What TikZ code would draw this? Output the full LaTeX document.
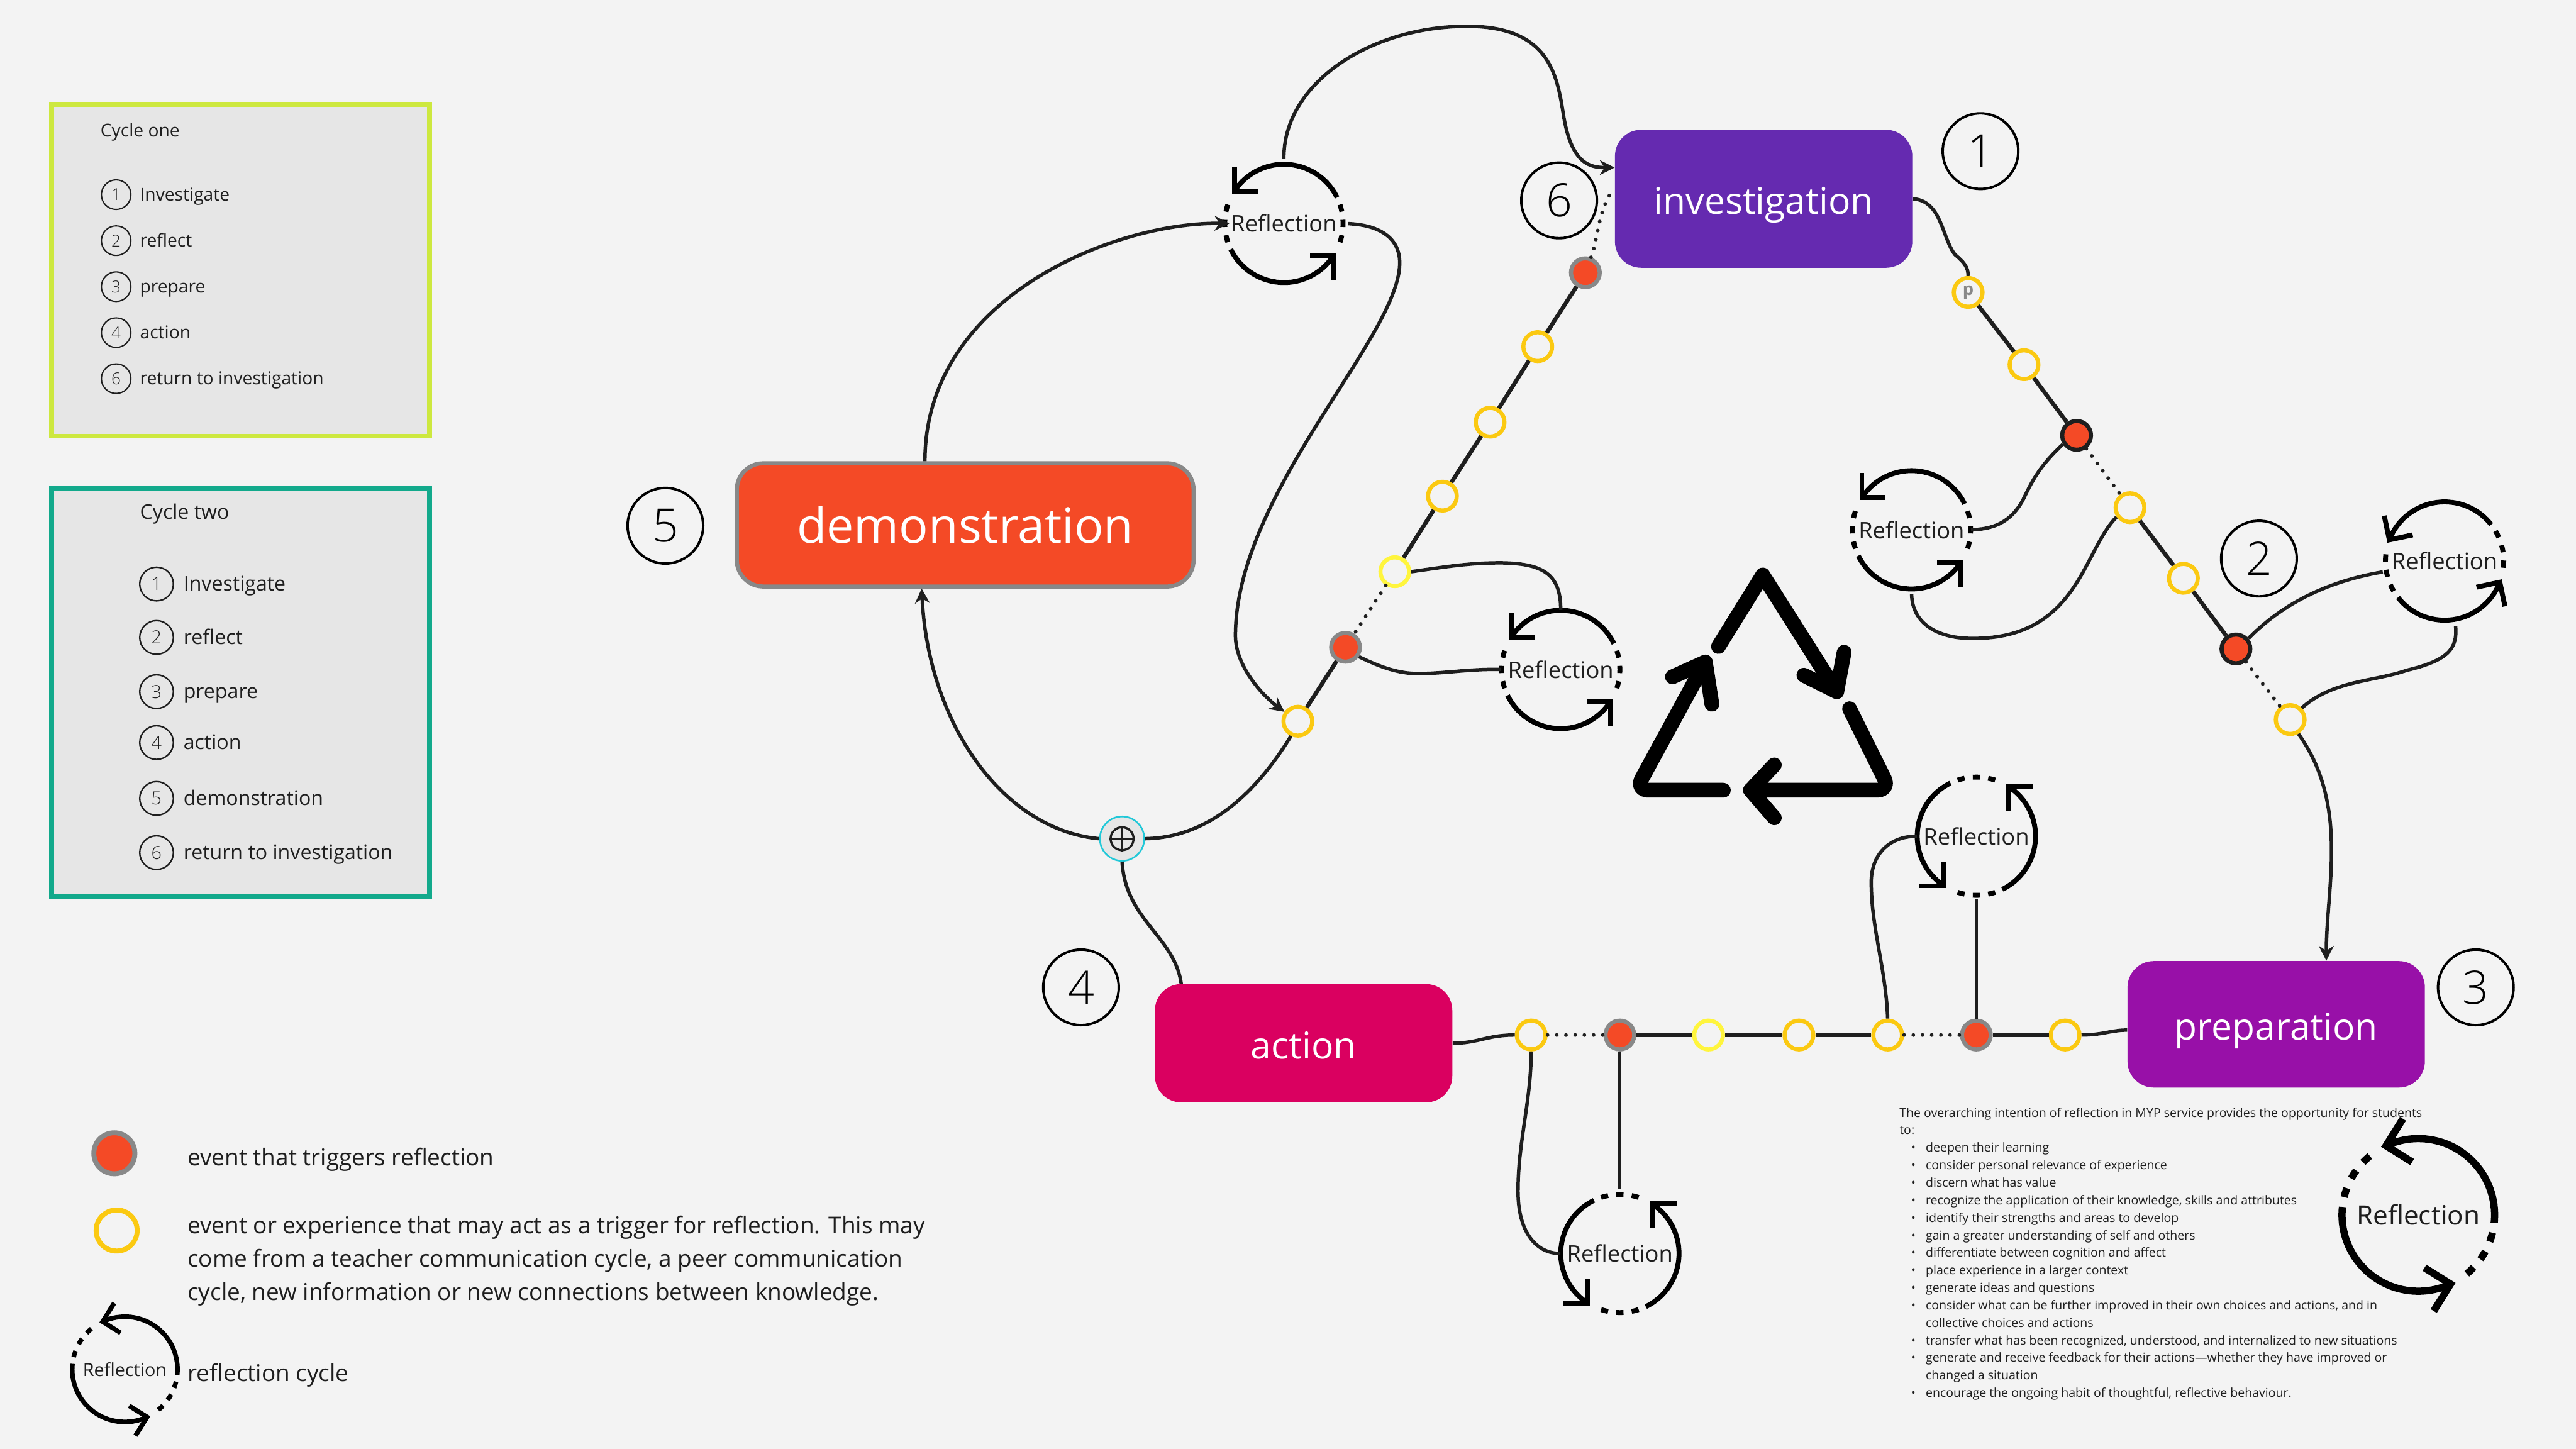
\documentclass[tikz,border=0pt]{standalone}
\usepackage{fontspec}
\setmainfont{Open Sans}
\newfontfamily\numfont{Open Sans Light}
\usetikzlibrary{arrows.meta}
\definecolor{bgc}{HTML}{F3F3F3}
\definecolor{panel}{HTML}{E6E6E6}
\definecolor{lime}{HTML}{CDE83F}
\definecolor{teal2}{HTML}{12A98B}
\definecolor{ink}{HTML}{1E1E1E}
\definecolor{amber}{HTML}{FBC911}
\definecolor{lemon}{HTML}{FFF53D}
\definecolor{redd}{HTML}{F44A26}
\definecolor{greyy}{HTML}{888888}
\definecolor{violet2}{HTML}{652AB0}
\definecolor{rose}{HTML}{DA0060}
\definecolor{purp}{HTML}{9810A8}
\definecolor{cyanc}{HTML}{22C8D8}
\newcommand{\fsz}[1]{\fontsize{#1}{#1}\selectfont}
\newcommand{\low}[1]{\raisebox{-9.5pt}[0pt][0pt]{#1}}
\tikzset{
  panelbox/.style={draw,fill=panel,line width=3pt,minimum width=230pt,anchor=north west,inner sep=0},
  lab/.style={anchor=mid west,inner sep=0,text=ink},
  stagebox/.style={rounded corners=16pt,minimum width=181pt,text=white,inner sep=0},
  numc/.style={circle,draw=black,line width=1.5pt,minimum size=46pt,inner sep=0,font=\numfont\fsz{28},text=black},
  smallc/.style={circle,draw=ink,line width=.8pt,minimum size=18pt,inner sep=0,font=\numfont\fsz{10},text=ink},
  smallcc/.style={circle,draw=ink,line width=.9pt,minimum size=20.5pt,inner sep=0,font=\numfont\fsz{11},text=ink},
  ring/.style={circle,draw=amber,fill=bgc,line width=2.5pt,minimum size=17.5pt,inner sep=0},
  ringl/.style={ring,draw=lemon},
  trig/.style={circle,draw=greyy,fill=redd,line width=2.5pt,minimum size=17.5pt,inner sep=0},
  trigd/.style={trig,draw=ink},
  conn/.style={draw=ink,line width=2.1pt},
  connb/.style={draw=ink,line width=2.5pt},
  arr/.style={-{Stealth[length=9pt,width=9pt]}},
  dots/.style={draw=ink,line width=2.3pt,line cap=round,dash pattern=on 0pt off 5.6pt},
  rec/.style={draw=black,line width=9pt,line cap=round,line join=round},
  reft/.style={circle,inner sep=0,text=ink},
}
% name, x, y, rotation, scale, font size, line width
\newcommand{\refcyc}[7]{%
  \node[reft,minimum size=#5*72pt,font=\fsz{#6}] (#1) at (#2,#3) {Reflection};
  \begin{scope}[shift={(#2,#3)},rotate=#4,scale=#5,line width=#7pt,draw=black]
    \draw (-26:36) arc[start angle=-26,end angle=-147,radius=36];
    \draw (154:36) arc[start angle=154,end angle=33,radius=36];
    \draw[miter limit=10] (-30.2,-34.6) -- (-30.2,-19.6) -- (-15.7,-19.6);
    \draw[miter limit=10] (30.2,34.6) -- (30.2,19.6) -- (15.7,19.6);
    \foreach \a in {-15,0,15,165,180,195}{
      \draw (\a-3.5:36) arc[start angle=\a-3.5,end angle=\a+3.5,radius=36];
    }
  \end{scope}
}
\newcommand{\bl}[1]{\makebox[16pt][l]{\hspace{7pt}•}#1}
\begin{document}
\begin{tikzpicture}[x=1pt,y=1pt,yscale=-1]
\useasboundingbox (0,0) rectangle (1568,882);
\fill[bgc] (0,0) rectangle (1568,882);

% panels
\node[panelbox,draw=lime,minimum height=202pt] (p1) at (30,62) {};
\node[panelbox,draw=teal2,minimum height=248.5pt] (p2) at (30,296) {};
\node[lab,font=\fsz{10.8}] (c1t) at (61,80.5) {Cycle one};
\foreach \n/\y/\t/\k in {1/118.5/Investigate/a,2/146.5/reflect/b,3/174.5/prepare/c,4/202.5/action/d,6/230.5/return to investigation/e}{
  \node[smallc] (c1\k) at (70.7,\y) {\n};
  \node[lab,font=\fsz{10.8}] (c1l\k) at (85,\y+1) {\t};
}
\node[lab,font=\fsz{12.3}] (c2t) at (85,313.5) {Cycle two};
\foreach \n/\y/\t/\k in {1/355.5/Investigate/a,2/388/reflect/b,3/421/prepare/c,4/452/action/d,5/486/demonstration/e,6/519/return to investigation/f}{
  \node[smallcc] (c2\k) at (95.3,\y) {\n};
  \node[lab,font=\fsz{12.3}] (c2l\k) at (111.5,\y+1.5) {\t};
}

% stage boxes
\node[stagebox,fill=redd,draw=greyy,line width=2.5pt,minimum width=278pt,minimum height=75pt,font=\fsz{29.6}] (demo) at (587.5,319.5) {demonstration};
\node[stagebox,fill=violet2,minimum height=84pt,font=\fsz{22.5}] (inv) at (1073.5,121) {\low{investigation}};
\node[stagebox,fill=rose,minimum height=72pt,font=\fsz{22.5}] (act) at (793.5,635) {\low{action}};
\node[stagebox,fill=purp,minimum height=77pt,font=\fsz{22.5}] (prep) at (1385.5,623.5) {\low{preparation}};

% number circles
\node[numc] (n1) at (1205.5,92) {1};
\node[numc] (n2) at (1375,340) {2};
\node[numc] (n3) at (1507,601) {3};
\node[numc] (n4) at (658,601) {4};
\node[numc] (n5) at (405,320) {5};
\node[numc] (n6) at (949,122) {6};

% chain nodes
\node[ring,font=\bfseries\fsz{10.5},text=greyy] (pn) at (1198,178) {p};
\node[ring] (a2) at (1232,222) {};
\node[trigd] (a3) at (1264,265) {};
\node[ring] (a4) at (1296.5,309) {};
\node[ring] (a5) at (1329,352) {};
\node[trigd] (a6) at (1361,395) {};
\node[ring] (a7) at (1394,438) {};
\node[ring] (b1) at (932,630) {};
\node[trig] (b2) at (986,630) {};
\node[ringl] (b3) at (1040,630) {};
\node[ring] (b4) at (1095,630) {};
\node[ring] (b5) at (1149,630) {};
\node[trig] (b6) at (1203,630) {};
\node[ring] (b7) at (1257,630) {};
\node[trig] (l1) at (965,166) {};
\node[ring] (l2) at (936,211) {};
\node[ring] (l3) at (907,257) {};
\node[ring] (l4) at (878,302) {};
\node[ringl] (l5) at (849,348) {};
\node[trig] (l6) at (819,394) {};
\node[ring] (l7) at (790,439) {};
\node[circle,draw=cyanc,fill=panel,line width=1pt,minimum size=27pt,inner sep=0] (cy) at (683,510.5) {};
\node[circle,draw=ink,line width=1.3pt,minimum size=14pt,inner sep=0] (cyi) at (683,510.5) {};
\draw[ink,line width=1.1pt] (cyi.north) -- (cyi.south) (cyi.west) -- (cyi.east);

% reflection cycles
\refcyc{rA}{781.5}{136}{0}{1}{13.9}{3}
\refcyc{rB}{1163.5}{322.5}{0}{1}{13.9}{3}
\refcyc{rC}{1488}{341.5}{-12}{1}{13.9}{3}
\refcyc{rD}{950}{407.5}{0}{1}{13.9}{3}
\refcyc{rE}{1203}{509}{90}{1}{13.9}{3}
\refcyc{rF}{986}{763}{90}{1}{13.9}{3}
\refcyc{rG}{1472}{739.5}{32}{1.29}{16.2}{4.4}
\refcyc{rH}{76}{833.5}{32}{.89}{11}{2.8}

% chain lines
\draw[connb] (pn) -- (a2); \draw[connb] (a2) -- (a3);
\draw[dots] (a3) -- (a4);
\draw[connb] (a4) -- (a5); \draw[connb] (a5) -- (a6);
\draw[dots] (a6) -- (a7);
\draw[dots] (b1) -- (b2);
\draw[connb] (b2) -- (b3); \draw[connb] (b3) -- (b4); \draw[connb] (b4) -- (b5);
\draw[dots] (b5) -- (b6);
\draw[connb] (b6) -- (b7);
\draw[connb] (l1) -- (l2); \draw[connb] (l2) -- (l3); \draw[connb] (l3) -- (l4); \draw[connb] (l4) -- (l5);
\draw[dots] (l5) -- (l6);
\draw[connb] (l6) -- (l7);
\draw[dots] (l1.70) .. controls (973,145) and (973,125) .. (inv.west|-975,115);

% connectors
\draw[conn,arr,shorten <=3pt,shorten >=0pt] (rA.north) .. controls (781,50) and (835,16) .. (893,16) .. controls (945,16) and (948,48) .. (952,72) .. controls (957,100) and (968,102) .. (inv.west|-975,102);
\draw[conn,arr,shorten >=-3pt] (demo.north-|563,0) .. controls (563,180) and (680,135) .. (rA.west);
\draw[conn,arr,shorten <=3pt] (rA.east) .. controls (840,137) and (852,145) .. (852,160) .. controls (852,205) and (752,300) .. (752,387) .. controls (752,405) and (768,423) .. (l7.145);
\draw[conn] (l7.245) .. controls (760,490) and (730,510) .. (cy.east);
\draw[conn,arr] (cy.west) .. controls (610,505) and (565,440) .. (demo.south-|561,0);
\draw[conn] (act.north-|719,0) .. controls (715,570) and (685,560) .. (cy.south);
\draw[conn] (l5.east) .. controls (880,345) and (895,342.5) .. (914,342.6) .. controls (940,343) and (950,350) .. (rD.north);
\draw[conn] (l6.-35) .. controls (838,405) and (850,410) .. (863,410) .. controls (880,410) and (895,407) .. (rD.west);
\draw[conn] (inv.east) .. controls (1182,122) and (1182,145) .. (1190,155) .. controls (1196,160) and (1198,163) .. (pn.north);
\draw[conn,arr] (a7.-60) .. controls (1430,490) and (1416,540) .. (prep.north-|1416,0);
\draw[conn] (a3.213) .. controls (1240,285) and (1236,295) .. (1231,305) .. controls (1224,317) and (1215,322) .. (rB.east);
\draw[conn,shorten >=3pt] (a4.215) .. controls (1268,335) and (1265,388) .. (1202,388.6) .. controls (1180,389) and (1164,380) .. (rB.south);
\draw[conn,shorten >=2pt] (a6.40) .. controls (1385,372) and (1410,355) .. (rC.190);
\draw[conn,shorten >=4pt] (a7.45) .. controls (1420,414) and (1445,415) .. (1465,408) .. controls (1490,402) and (1496,395) .. (rC.-80);
\draw[conn] (act.east|-885,635) .. controls (900,635) and (905,630) .. (b1.west);
\draw[conn] (b7.east) .. controls (1280,630) and (1285,627) .. (prep.west|-1295,627);
\draw[conn] (b1.south) .. controls (932,670) and (924,695) .. (924,725) .. controls (924,750) and (935,763) .. (rF.west);
\draw[conn,shorten >=3pt] (b2.south) -- (rF.north);
\draw[conn] (b5.north) .. controls (1148,590) and (1139,565) .. (1139,537) .. controls (1139,520) and (1150,509) .. (rE.west);
\draw[conn,shorten >=2pt] (b6.north) -- (rE.south);

% recycle symbol
\draw[rec] (1046,393.5) -- (1073,350) -- (1118,421);
\draw[rec] (1122.5,397) -- (1118,421) -- (1098,411);
\draw[rec,rounded corners=8pt] (1125.8,431.4) -- (1150.5,481) -- (1065.5,481);
\draw[rec] (1080,465.6) -- (1065.5,481) -- (1080,497.8);
\draw[rec,rounded corners=8pt] (1049,481) -- (995.5,481) -- (1038,403);
\draw[rec] (1018,412) -- (1038,403) -- (1042,428.6);

% legend
\node[circle,draw=greyy,fill=redd,line width=3pt,minimum size=25pt,inner sep=0] (lg1) at (69.6,702) {};
\node[circle,draw=amber,fill=bgc,line width=3pt,minimum size=25pt,inner sep=0] (lg2) at (71,749) {};
\node[lab,font=\fsz{14.15}] (lt1) at (114,707) {event that triggers reflection};
\node[lab,align=left,anchor=north west,font=\fontsize{14.15}{20.3}\selectfont] (lt2) at (114,740) {event or experience that may act as a trigger for reflection. This may\\come from a teacher communication cycle, a peer communication\\cycle, new information or new connections between knowledge.};
\node[lab,font=\fsz{14.15}] (lt3) at (114,838) {reflection cycle};

% body text
\node[anchor=north west,inner sep=0,align=left,text=ink,font=\fontsize{7.48}{10.66}\selectfont] (body) at (1156,674) {The overarching intention of reflection in MYP service provides the opportunity for students\\
to:\\
\bl{deepen their learning}\\
\bl{consider personal relevance of experience}\\
\bl{discern what has value}\\
\bl{recognize the application of their knowledge, skills and attributes}\\
\bl{identify their strengths and areas to develop}\\
\bl{gain a greater understanding of self and others}\\
\bl{differentiate between cognition and affect}\\
\bl{place experience in a larger context}\\
\bl{generate ideas and questions}\\
\bl{consider what can be further improved in their own choices and actions, and in}\\
\hspace*{16pt}collective choices and actions\\
\bl{transfer what has been recognized, understood, and internalized to new situations}\\
\bl{generate and receive feedback for their actions—whether they have improved or}\\
\hspace*{16pt}changed a situation\\
\bl{encourage the ongoing habit of thoughtful, reflective behaviour.}};
\end{tikzpicture}
\end{document}
